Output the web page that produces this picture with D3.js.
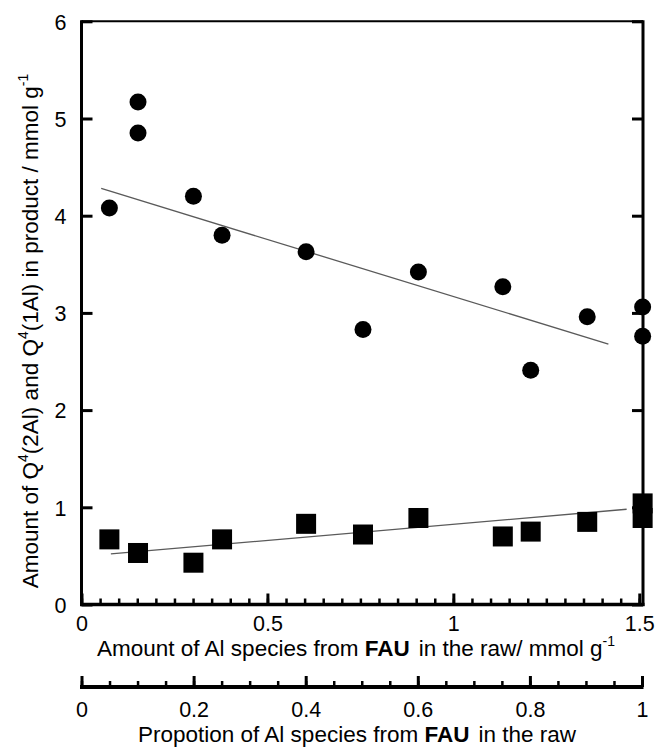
<!DOCTYPE html>
<html>
<head>
<meta charset="utf-8">
<script src="https://cdn.jsdelivr.net/npm/d3@7"></script>
<style>
  html, body { margin: 0; padding: 0; background: #fff; }
  svg text { font-family: "Liberation Sans", Arial, sans-serif; fill: #000; }
</style>
</head>
<body>
<svg id="chart" width="657" height="749"></svg>
<script>
// Amount of Al species from FAU in the raw material (mmol/g)
const circleX = [0.075, 0.152, 0.152, 0.301, 0.378, 0.604, 0.757, 0.906, 1.133, 1.208, 1.360, 1.509, 1.509];
// Q4(1Al) amount in product (mmol/g)
const circleY = [4.08, 5.17, 4.85, 4.20, 3.80, 3.63, 2.83, 3.42, 3.27, 2.41, 2.96, 3.06, 2.76];

const squareX = [0.075, 0.152, 0.301, 0.378, 0.604, 0.757, 0.906, 1.133, 1.208, 1.360, 1.509, 1.509];
// Q4(2Al) amount in product (mmol/g)
const squareY = [0.67, 0.53, 0.43, 0.67, 0.83, 0.72, 0.89, 0.70, 0.75, 0.85, 1.04, 0.89];

// Linear fits: [x, y] end points
const circleFit = [[0.053, 4.28], [1.417, 2.68]];
const squareFit = [[0.079, 0.52], [1.466, 0.98]];

const yTicks = [0, 1, 2, 3, 4, 5, 6];
const xMajor = [0, 0.5, 1, 1.5];
const xTickLabels = ["0", "0.5", "1", "1.5"];
const pMajor = [0, 0.2, 0.4, 0.6, 0.8, 1];
const pTickLabels = ["0", "0.2", "0.4", "0.6", "0.8", "1"];

const svg = d3.select("#chart");

const plotL = 81.5, plotR = 643, plotT = 21.3, plotB = 604.5;
const x = d3.scaleLinear().domain([0, 1.51]).range([plotL, plotR]);
const y = d3.scaleLinear().domain([0, 6]).range([plotB, plotT]);
const p = d3.scaleLinear().domain([0, 1]).range([plotL, 642]);
const pAxisY = 687;

const FS = 21.5;   // tick labels
const TS = 22.5;   // axis titles
const SS = 14;     // superscripts

// frame
const frame = svg.append("g").attr("stroke", "#000").attr("fill", "none");
frame.append("line").attr("x1", plotL).attr("x2", plotR).attr("y1", plotT).attr("y2", plotT).attr("stroke-width", 2);
frame.append("line").attr("x1", plotL).attr("x2", plotL).attr("y1", plotT - 1).attr("y2", plotB + 1.5).attr("stroke-width", 3);
frame.append("line").attr("x1", plotR).attr("x2", plotR).attr("y1", plotT - 1).attr("y2", plotB + 1.5).attr("stroke-width", 3);
frame.append("line").attr("x1", plotL - 1.5).attr("x2", plotR + 1.5).attr("y1", plotB).attr("y2", plotB).attr("stroke-width", 3.5);

function styleAxis(g, w) {
  g.select(".domain").remove();
  g.selectAll(".tick line").attr("stroke", "#000").attr("stroke-width", w);
  g.selectAll(".tick text").attr("font-size", FS).attr("fill", "#000")
    .style("font-family", '"Liberation Sans", Arial, sans-serif');
}

// left y axis
const yl = svg.append("g").attr("transform", `translate(${plotL},0)`)
  .call(d3.axisLeft(y).tickValues(yTicks).tickFormat(d3.format("d"))
    .tickSizeInner(-11).tickSizeOuter(0).tickPadding(15));
styleAxis(yl, 3);
yl.selectAll(".tick text").attr("dy", "0.36em");

// right y axis (ticks only)
const yr = svg.append("g").attr("transform", `translate(${plotR},0)`)
  .call(d3.axisRight(y).tickValues(yTicks).tickFormat("").tickSizeInner(-11).tickSizeOuter(0));
styleAxis(yr, 3);

// bottom x axis, minor and major ticks pointing inward
const xMinor = d3.range(0, 1.5001, 0.05).map(v => +v.toFixed(2));
const xm = svg.append("g").attr("transform", `translate(0,${plotB})`)
  .call(d3.axisBottom(x).tickValues(xMinor).tickFormat("").tickSizeInner(-6).tickSizeOuter(0));
styleAxis(xm, 2.5);
const xb = svg.append("g").attr("transform", `translate(0,${plotB})`)
  .call(d3.axisBottom(x).tickValues(xMajor).tickFormat((d, i) => xTickLabels[i])
    .tickSizeInner(-11).tickSizeOuter(0).tickPadding(11));
styleAxis(xb, 3);

// proportion axis below
const pMinor = d3.range(0, 1.0001, 0.05).map(v => +v.toFixed(2));
const pm = svg.append("g").attr("transform", `translate(0,${pAxisY})`)
  .call(d3.axisBottom(p).tickValues(pMinor).tickFormat("").tickSizeInner(-6).tickSizeOuter(0));
styleAxis(pm, 2.5);
const pb = svg.append("g").attr("transform", `translate(0,${pAxisY})`)
  .call(d3.axisBottom(p).tickValues(pMajor).tickFormat((d, i) => pTickLabels[i])
    .tickSizeInner(-11).tickSizeOuter(0).tickPadding(15));
styleAxis(pb, 3);
svg.append("line").attr("x1", p(0) - 1.5).attr("x2", p(1) + 1.5)
  .attr("y1", pAxisY).attr("y2", pAxisY).attr("stroke", "#000").attr("stroke-width", 4);

// trend lines
const line = d3.line().x(d => x(d[0])).y(d => y(d[1]));
[circleFit, squareFit].forEach(f => {
  svg.append("path").attr("d", line(f)).attr("fill", "none")
    .attr("stroke", "#5a5a5a").attr("stroke-width", 1.3);
});

// Q4(1Al) circles
svg.append("g").selectAll("circle").data(circleX).join("circle")
  .attr("cx", d => x(d)).attr("cy", (d, i) => y(circleY[i]))
  .attr("r", 8.5).attr("fill", "#000");

// Q4(2Al) squares
const S = 20;
svg.append("g").selectAll("rect").data(squareX).join("rect")
  .attr("x", d => x(d) - S / 2).attr("y", (d, i) => y(squareY[i]) - S / 2)
  .attr("width", S).attr("height", S).attr("fill", "#000");

// axis titles
const t1 = svg.append("text").attr("x", 356).attr("y", 656)
  .attr("text-anchor", "middle").attr("font-size", TS);
t1.append("tspan").text("Amount of Al species from ");
t1.append("tspan").attr("font-weight", "bold").text("FAU");
t1.append("tspan").attr("dx", 9).text("in the raw/ mmol g");
t1.append("tspan").attr("font-size", SS).attr("dy", -10).text("-1");

const t2 = svg.append("text").attr("x", 357).attr("y", 742)
  .attr("text-anchor", "middle").attr("font-size", TS);
t2.append("tspan").text("Propotion of Al species from ");
t2.append("tspan").attr("font-weight", "bold").text("FAU");
t2.append("tspan").attr("dx", 9).text("in the raw");

const t3 = svg.append("text").attr("transform", "translate(38,331) rotate(-90)")
  .attr("text-anchor", "middle").attr("font-size", TS);
t3.append("tspan").text("Amount of Q");
t3.append("tspan").attr("font-size", SS).attr("dy", -10).text("4");
t3.append("tspan").attr("dy", 10).text("(2Al) and Q");
t3.append("tspan").attr("font-size", SS).attr("dy", -10).text("4");
t3.append("tspan").attr("dy", 10).text("(1Al) in product / mmol g");
t3.append("tspan").attr("font-size", SS).attr("dy", -10).text("-1");
</script>
</body>
</html>
